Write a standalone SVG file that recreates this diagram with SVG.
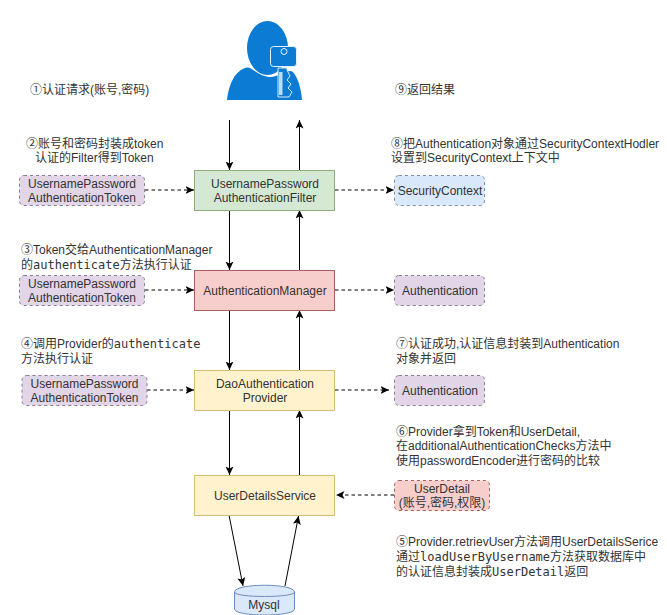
<svg xmlns="http://www.w3.org/2000/svg" width="667" height="615" viewBox="0 0 667 615">
<style>
text{font-family:"Liberation Sans","Noto Sans CJK SC",sans-serif;font-size:12px;fill:#333}
.m{font-family:"DejaVu Sans Mono","Liberation Mono",monospace;font-size:12px}
.c{text-anchor:middle}
.box{stroke-width:1}
.tag{stroke-width:1;stroke-dasharray:3 3}
.solid{fill:none;stroke:#000;stroke-width:1;marker-end:url(#a)}
.dash{fill:none;stroke:#000;stroke-width:1;stroke-dasharray:3.5 3;marker-end:url(#a)}
</style>
<defs><marker id="a" markerUnits="userSpaceOnUse" markerWidth="10" markerHeight="9" refX="8.500" refY="4" orient="auto"><path d="M0 0L8.500 4L0 8L2 4Z" fill="#000"/></marker></defs>
<rect width="667" height="615" fill="#fff"/>
<g id="connectors">
<path class="solid" d="M229.500 120V170"/>
<path class="solid" d="M229.500 210V270"/>
<path class="solid" d="M229.500 310V370"/>
<path class="solid" d="M229.500 410V475"/>
<path class="solid" d="M299.500 170V120"/>
<path class="solid" d="M299.500 270V210"/>
<path class="solid" d="M299.500 370V310"/>
<path class="solid" d="M299.500 475V410"/>
<path class="solid" d="M229 515L243 586"/>
<path class="solid" d="M285 586L298.500 516"/>
<path class="dash" d="M145 190H194"/>
<path class="dash" d="M145 290H194"/>
<path class="dash" d="M147 390H194"/>
<path class="dash" d="M335 190H394"/>
<path class="dash" d="M335 290H394"/>
<path class="dash" d="M335 390H389"/>
<path class="dash" d="M394 495H336"/>
</g>
<g id="user-icon">
<ellipse cx="267.500" cy="48" rx="20.500" ry="27" fill="#0b7bd3"/>
<path d="M227 100C229 84 235 70 247 67.500C252 67 258 76 270 77C280 77 288 68 293 72C298 78 301 88 302 100Z" fill="#0b7bd3"/>
<path d="M278 68V97H289L292 92L288 88L291 84L287 80L290 76L287 70V68Z" fill="#0b7bd3" stroke="#d8ecfa" stroke-width="1"/>
<rect x="279" y="72" width="3.500" height="23" fill="#bcdcf2"/>
<rect x="270.500" y="46.500" width="26" height="20" rx="3" fill="#0b7bd3" stroke="#e4f2fc" stroke-width="1"/>
<circle cx="284" cy="51.500" r="3" fill="#0b7bd3" stroke="#e4f2fc" stroke-width="1"/>
</g>
<g id="label-1"><text x="30" y="94">①认证请求(账号,密码)</text></g>
<g id="label-9"><text x="395" y="94">⑨返回结果</text></g>
<g id="label-2"><text x="26" y="148">②账号和密码封装成token</text><text x="35" y="162">认证的Filter得到Token</text></g>
<g id="label-8"><text x="391" y="148">⑧把Authentication对象通过SecurityContextHodler</text><text x="391" y="162">设置到SecurityContext上下文中</text></g>
<g id="label-3"><text x="21" y="254">③Token交给AuthenticationManager</text><text x="21" y="269">的<tspan class="m">authenticate</tspan>方法执行认证</text></g>
<g id="label-4"><text x="21" y="348">④调用Provider的<tspan class="m">authenticate</tspan></text><text x="21" y="363">方法执行认证</text></g>
<g id="label-7"><text x="396" y="348">⑦认证成功,认证信息封装到Authentication</text><text x="396" y="363">对象并返回</text></g>
<g id="label-6"><text x="396" y="436">⑥Provider拿到Token和UserDetail,</text><text x="396" y="450">在additionalAuthenticationChecks方法中</text><text x="396" y="465">使用passwordEncoder进行密码的比较</text></g>
<g id="label-5"><text x="396" y="546">⑤Provider.retrievUser方法调用UserDetailsSerice</text><text x="396" y="561">通过<tspan class="m">loadUserByUsername</tspan>方法获取数据库中</text><text x="396" y="576">的认证信息封装成<tspan class="m">UserDetail</tspan>返回</text></g>
<g id="filter"><rect class="box" x="194.500" y="170.500" width="140" height="40" fill="#d5e8d4" stroke="#8fad7c"/><text class="c" x="265" y="188">UsernamePassword</text><text class="c" x="265" y="202">AuthenticationFilter</text></g>
<g id="manager"><rect class="box" x="194.500" y="270.500" width="140" height="40" fill="#f8cecc" stroke="#a8605c"/><text class="c" x="265" y="295">AuthenticationManager</text></g>
<g id="provider"><rect class="box" x="194.500" y="370.500" width="140" height="40" fill="#fff2cc" stroke="#d6bd70"/><text class="c" x="265" y="388">DaoAuthentication</text><text class="c" x="265" y="402">Provider</text></g>
<g id="service"><rect class="box" x="194.500" y="475.500" width="140" height="40" fill="#fff2cc" stroke="#d6bd70"/><text class="c" x="265" y="500">UserDetailsService</text></g>
<g id="token-1"><rect class="tag" x="19.500" y="175.500" width="125" height="30" rx="4.500" fill="#e1d5e7" stroke="#8a7d92"/><text class="c" x="82" y="188">UsernamePassword</text><text class="c" x="82" y="202">AuthenticationToken</text></g>
<g id="token-2"><rect class="tag" x="19.500" y="275.500" width="125" height="30" rx="4.500" fill="#e1d5e7" stroke="#8a7d92"/><text class="c" x="82" y="288">UsernamePassword</text><text class="c" x="82" y="302">AuthenticationToken</text></g>
<g id="token-3"><rect class="tag" x="22" y="375.500" width="125" height="30" rx="4.500" fill="#e1d5e7" stroke="#8a7d92"/><text class="c" x="84.500" y="388">UsernamePassword</text><text class="c" x="84.500" y="402">AuthenticationToken</text></g>
<g id="security-context"><rect class="tag" x="394.500" y="175.500" width="90" height="30" rx="4.500" fill="#dae8fc" stroke="#7f8fa6"/><text class="c" x="440" y="195">SecurityContext</text></g>
<g id="authentication-1"><rect class="tag" x="394.500" y="275.500" width="90" height="30" rx="4.500" fill="#e1d5e7" stroke="#8a7d92"/><text class="c" x="440" y="295">Authentication</text></g>
<g id="authentication-2"><rect class="tag" x="394.500" y="375.500" width="90" height="30" rx="4.500" fill="#e1d5e7" stroke="#8a7d92"/><text class="c" x="440" y="395">Authentication</text></g>
<g id="user-detail"><rect class="tag" x="394.500" y="480.500" width="95" height="30" rx="4.500" fill="#f8cecc" stroke="#a8605c"/><text class="c" x="442" y="493">UserDetail</text><text class="c" x="442" y="507">(账号,密码,权限)</text></g>
<g id="mysql"><path d="M234.500 592C234.500 583 294.500 583 294.500 592V609C294.500 617 234.500 617 234.500 609Z" fill="#dae8fc" stroke="#6c8ebf"/><path d="M234.500 592C234.500 598 294.500 598 294.500 592" fill="none" stroke="#6c8ebf"/><text class="c" x="264" y="609">Mysql</text></g>
</svg>
